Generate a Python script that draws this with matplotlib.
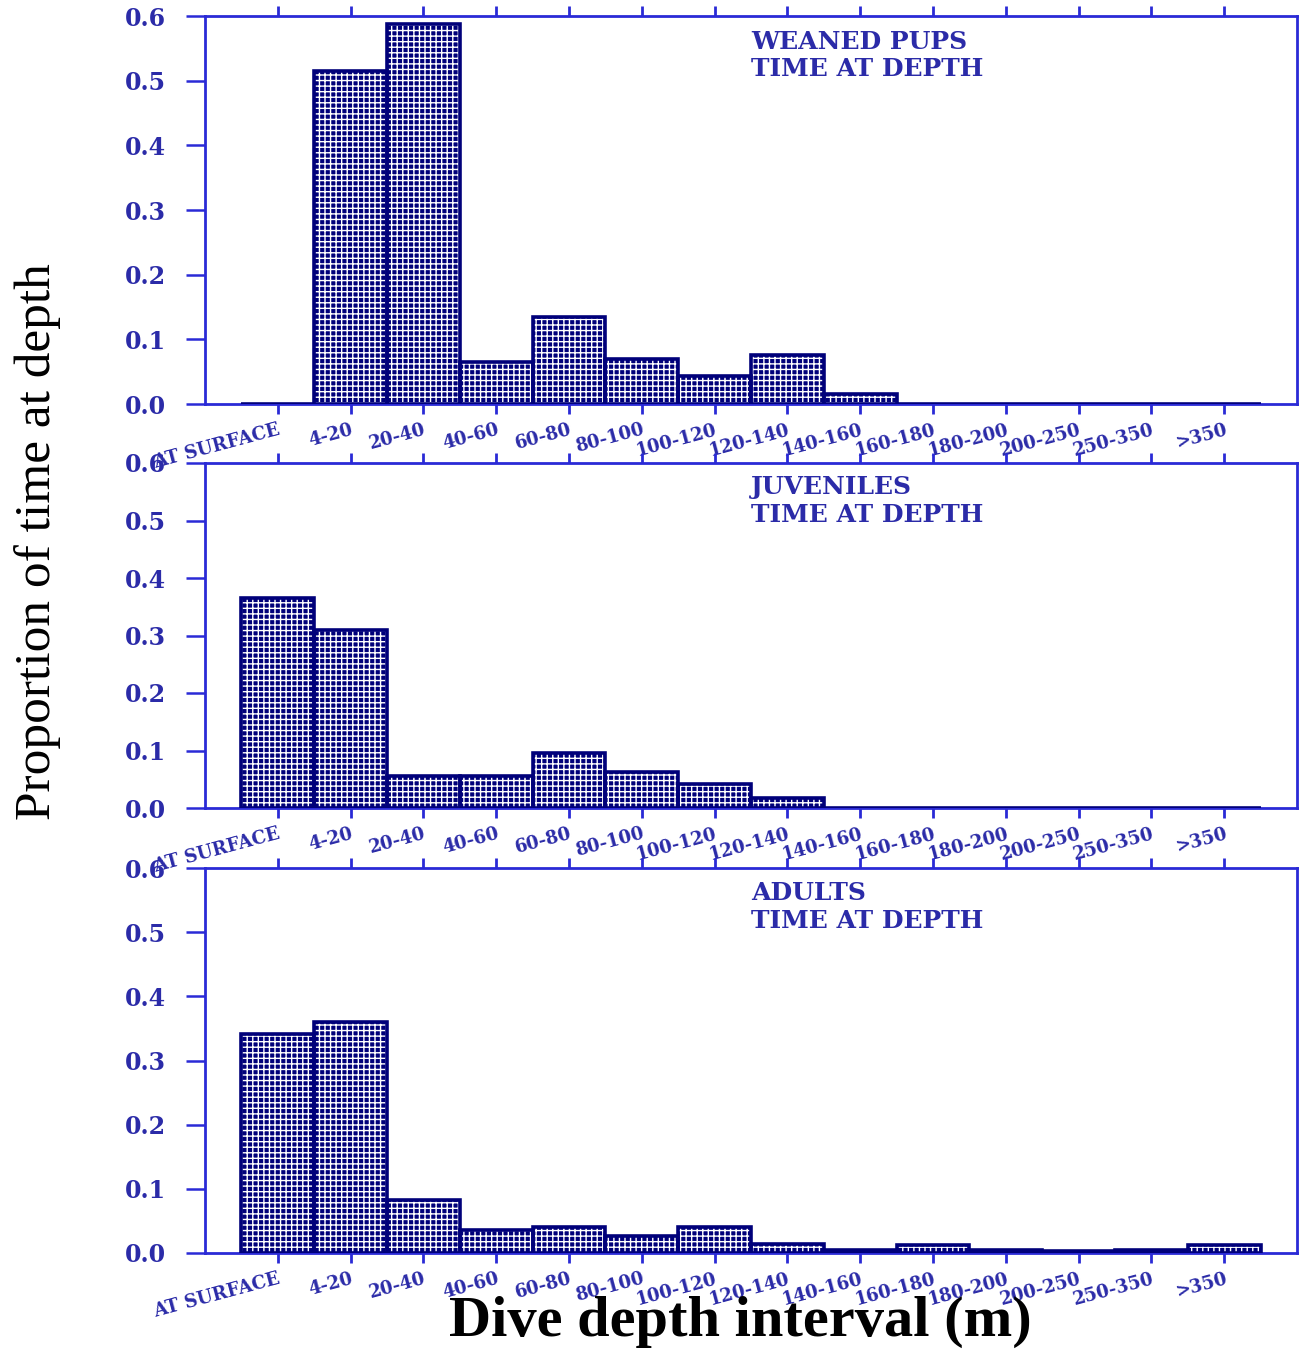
import matplotlib
matplotlib.use("Agg")
import matplotlib.pyplot as plt
import numpy as np

categories = ["AT SURFACE", "4-20", "20-40", "40-60", "60-80", "80-100", "100-120",
              "120-140", "140-160", "160-180", "180-200", "200-250", "250-350", ">350"]

weaned_pups = [0.0, 0.515, 0.588, 0.065, 0.135, 0.070, 0.044, 0.076, 0.016,
               0.0, 0.0, 0.0, 0.0, 0.0]
juveniles = [0.365, 0.310, 0.055, 0.056, 0.096, 0.063, 0.042, 0.018, 0.0,
             0.0, 0.0, 0.0, 0.0, 0.0]
adults = [0.341, 0.360, 0.083, 0.036, 0.040, 0.027, 0.040, 0.014, 0.004,
          0.012, 0.005, 0.003, 0.005, 0.012]

panel_titles = ["WEANED PUPS\nTIME AT DEPTH", "JUVENILES\nTIME AT DEPTH", "ADULTS\nTIME AT DEPTH"]
yticks = [0.0, 0.1, 0.2, 0.3, 0.4, 0.5, 0.6]

SPINE = "#2a2ad6"
TEXT_BLUE = "#2b2ba8"
NAVY = "#00007a"

W, H = 1302, 1353
fig = plt.figure(figsize=(W / 100, H / 100), dpi=100)
fig.patch.set_facecolor("white")

# (top, bottom) pixel positions of each panel
panels = [(16, 404), (463, 808), (868, 1253)]
left_px, right_px = 205, 1297

x = np.arange(len(categories))
series = [weaned_pups, juveniles, adults]

for (top, bot), vals, title in zip(panels, series, panel_titles):
    ax = fig.add_axes([left_px / W, 1 - bot / H, (right_px - left_px) / W, (bot - top) / H])
    ax.bar(x, vals, width=1.0, color=NAVY, edgecolor="white", hatch="+++",
           linewidth=0, zorder=2)
    ax.bar(x, vals, width=1.0, fill=False, edgecolor=NAVY, linewidth=2.6, zorder=3)
    ax.set_xlim(-1.0, 14.0)
    ax.set_ylim(0, 0.6)
    ax.set_yticks(yticks)
    ax.set_yticklabels([f"{v:.1f}" for v in yticks], fontfamily="DejaVu Serif",
                       fontweight="bold", fontsize=17, color=TEXT_BLUE)
    ax.set_xticks(x)
    ax.set_xticklabels(categories, rotation=15, ha="right", rotation_mode="anchor",
                       fontfamily="DejaVu Serif", fontweight="bold", fontsize=13,
                       color=TEXT_BLUE)
    for s in ax.spines.values():
        s.set_color(SPINE)
        s.set_linewidth(2.0)
    ax.tick_params(axis="y", direction="out", length=14, width=1.8, color=SPINE, pad=14)
    ax.tick_params(axis="x", direction="out", length=7, width=2.0, color=SPINE,
                   top=True, pad=5)
    ax.text(0.50, 0.965, title, transform=ax.transAxes, ha="left", va="top",
            fontfamily="DejaVu Serif", fontweight="bold", fontsize=18,
            color=TEXT_BLUE, linespacing=1.2)

fig.text(38 / W, 1 - 542 / H, "Proportion of time at depth", rotation=90,
         ha="center", va="center", fontfamily="Liberation Serif", fontsize=37,
         color="black")
fig.text(740 / W, 1 - 1336 / H, "Dive depth interval (m)", ha="center", va="baseline",
         fontfamily="Liberation Serif", fontweight="bold", fontsize=42, color="black")

fig.savefig("out.png", dpi=100, facecolor="white")
